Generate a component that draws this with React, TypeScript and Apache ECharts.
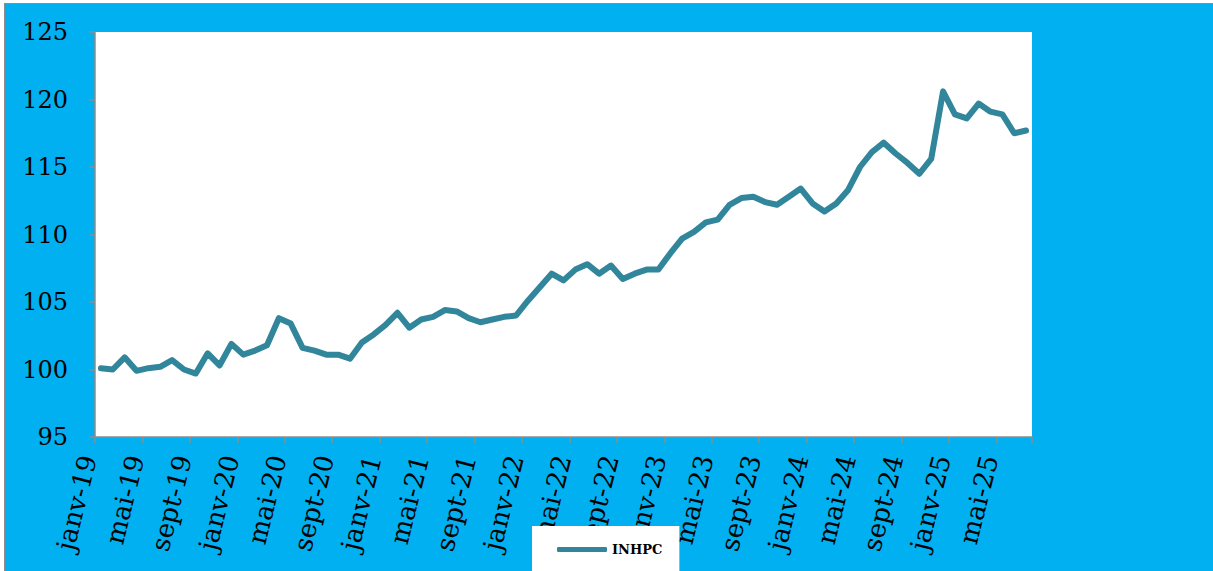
import React, { useEffect, useRef } from "react";
import * as echarts from "echarts";

const monthNames = ["janv", "févr", "mars", "avr", "mai", "juin", "juil", "août", "sept", "oct", "nov", "déc"];
const years = ["19", "20", "21", "22", "23", "24", "25"];
const lastMonthIndex2025 = 6; // juil-25

const categories: string[] = [];
years.forEach((y) => {
  monthNames.forEach((m, i) => {
    if (y === "25" && i > lastMonthIndex2025) return;
    categories.push(`${m}-${y}`);
  });
});

const inhpc = [
  100.1, 100.0, 100.9, 99.9, 100.1, 100.2, 100.7, 100.0, 99.7, 101.2, 100.3, 101.9,
  101.1, 101.4, 101.8, 103.8, 103.4, 101.6, 101.4, 101.1, 101.1, 100.8, 102.0, 102.6,
  103.3, 104.2, 103.1, 103.7, 103.9, 104.4, 104.3, 103.8, 103.5, 103.7, 103.9, 104.0,
  105.1, 106.1, 107.1, 106.6, 107.4, 107.8, 107.1, 107.7, 106.7, 107.1, 107.4, 107.4,
  108.6, 109.7, 110.2, 110.9, 111.1, 112.2, 112.7, 112.8, 112.4, 112.2, 112.8, 113.4,
  112.3, 111.7, 112.3, 113.3, 115.0, 116.1, 116.8, 116.0, 115.3, 114.5, 115.6, 120.6,
  118.9, 118.6, 119.7, 119.1, 118.9, 117.5, 117.7,
];

const seriesName = "INHPC";
const yMin = 95;
const yMax = 125;
const yStep = 5;

export default function App() {
  const ref = useRef<HTMLDivElement>(null);

  useEffect(() => {
    document.body.style.margin = "0";
    if (!ref.current) return;
    const chart = echarts.init(ref.current, undefined, { renderer: "svg" });
    const serif = "'DejaVu Serif', serif";
    chart.setOption({
      animation: false,
      backgroundColor: "transparent",
      grid: {
        left: 95,
        right: 181,
        top: 32,
        bottom: 134,
        show: true,
        backgroundColor: "#ffffff",
        borderWidth: 0,
      },
      legend: {
        data: [{ name: seriesName, icon: "roundRect" }],
        left: 532,
        top: 526,
        backgroundColor: "#ffffff",
        padding: [17, 17, 17, 25],
        itemWidth: 50,
        itemHeight: 5,
        itemGap: 5,
        textStyle: { fontFamily: serif, fontWeight: "bold", fontSize: 13, color: "#000" },
      },
      xAxis: {
        type: "category",
        data: categories,
        boundaryGap: true,
        axisLine: { show: true, lineStyle: { color: "#8c8c8c", width: 1.5 } },
        axisTick: { show: true, interval: 3, length: 6, alignWithLabel: false, lineStyle: { color: "#8c8c8c", width: 1.5 } },
        axisLabel: {
          interval: 3,
          rotate: 76,
          margin: 22,
          verticalAlign: "bottom",
          fontFamily: serif,
          fontSize: 26,
          color: "#000",
        },
        splitLine: { show: false },
      },
      yAxis: {
        type: "value",
        min: yMin,
        max: yMax,
        interval: yStep,
        axisLine: { show: true, lineStyle: { color: "#8c8c8c", width: 1.5 } },
        axisTick: { show: true, length: 6, lineStyle: { color: "#8c8c8c", width: 1.5 } },
        axisLabel: { fontFamily: serif, fontSize: 24, color: "#000", margin: 27 },
        splitLine: { show: false },
      },
      series: [
        {
          name: seriesName,
          type: "line",
          data: inhpc,
          symbol: "none",
          lineStyle: { color: "#31869B", width: 6, cap: "round", join: "round" },
          itemStyle: { color: "#31869B" },
        },
      ],
    });
    return () => chart.dispose();
  }, []);

  return (
    <div style={{ position: "relative", width: 1213, height: 571, background: "#ffffff", overflow: "hidden" }}>
      <div
        style={{
          position: "absolute",
          left: 4,
          top: 3,
          width: 1300,
          height: 700,
          background: "#00B0F0",
          borderLeft: "1.5px solid #8c8c8c",
          borderTop: "1.5px solid #8c8c8c",
        }}
      />
      <div ref={ref} style={{ position: "absolute", left: 0, top: 0, width: 1213, height: 571 }} />
    </div>
  );
}
